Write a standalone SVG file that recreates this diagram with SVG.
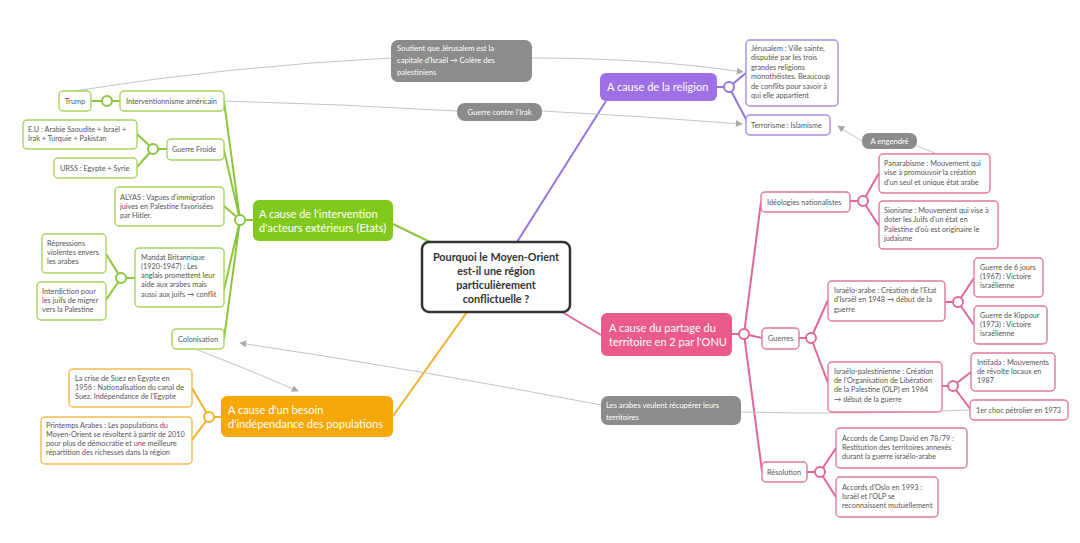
<svg xmlns="http://www.w3.org/2000/svg" width="1080" height="543" viewBox="0 0 1080 543">
<defs>
<style>
text{font-family:"Lato","Liberation Sans",sans-serif;}
.t{font-size:7.3px;fill:#555;}
.w{font-size:7.6px;fill:#fff;}
.m{font-size:11px;fill:#fff;}
.c{font-size:10.8px;font-weight:bold;fill:#333;text-anchor:middle;}
.g rect{fill:#fff;stroke:#a6d55e;stroke-width:1.4;}
.o rect{fill:#fff;stroke:#f2bd4c;stroke-width:1.4;}
.p rect{fill:#fff;stroke:#a78ddb;stroke-width:1.4;}
.k rect{fill:#fff;stroke:#de7aa2;stroke-width:1.4;}
.gr rect{fill:#8c8c8c;}
.lg{stroke:#8cc63f;stroke-width:2;fill:none;}
.lo{stroke:#f0b12c;stroke-width:2;fill:none;}
.lp{stroke:#9575e0;stroke-width:2;fill:none;}
.lk{stroke:#e0679a;stroke-width:2;fill:none;}
.hg{fill:#fff;stroke:#8cc63f;stroke-width:2;}
.ho{fill:#fff;stroke:#f0b12c;stroke-width:2;}
.hp{fill:#fff;stroke:#9575e0;stroke-width:2;}
.hk{fill:#fff;stroke:#e0679a;stroke-width:2;}
.rel{stroke:#c4c4c4;stroke-width:1;fill:none;}
</style>
<marker id="ar" viewBox="0 0 10 10" refX="9" refY="5" markerWidth="7" markerHeight="7" orient="auto" markerUnits="userSpaceOnUse">
<path d="M0,0 L10,5 L0,10 z" fill="#aaa"/>
</marker>
</defs>
<rect width="1080" height="543" fill="#fff"/>

<g id="connectors">
<path class="lg" d="M430,242 L393,224"/>
<path class="lo" d="M467,312 L393,416"/>
<path class="lp" d="M517,242 L606,101"/>
<path class="lk" d="M562,312 L601,335"/>
<path class="lg" d="M240,220 L224,101 M240,220 L224,150 M240,220 L224,206 M240,220 L224,290 M240,220 L224,339 M240,220 L253,220"/>
<path class="lg" d="M91,101 L102,101 M112,101 L120,101"/>
<path class="lg" d="M153,149 L137,134 M153,149 L137,167 M158,149 L167,149"/>
<path class="lg" d="M121,278 L106,254 M121,278 L106,300 M126,278 L135,278"/>
<path class="lo" d="M209,417 L192,388 M209,417 L192,440 M214,417 L221,417"/>
<path class="lp" d="M717,87 L724,87 M729,87 L746,73 M729,87 L747,121"/>
<path class="lk" d="M732,334 L739,334 M744,334 L761,202 M744,334 L762,338 M744,334 L762,471"/>
<path class="lk" d="M850,201 L858,201 M863,201 L879,173 M863,201 L879,226"/>
<path class="lk" d="M799,338 L806,338 M811,338 L828,300 M811,338 L828,383"/>
<path class="lk" d="M945,302 L953,302 M958,302 L974,278 M958,302 L974,325"/>
<path class="lk" d="M942,386 L948,386 M953,386 L971,372 M953,386 L971,410"/>
<path class="lk" d="M807,472 L815,472 M820,472 L836,448 M820,472 L836,497"/>
<circle class="hg" cx="240" cy="220" r="5"/>
<circle class="hg" cx="107" cy="101" r="5"/>
<circle class="hg" cx="153" cy="149" r="5"/>
<circle class="hg" cx="121" cy="278" r="5"/>
<circle class="ho" cx="209" cy="417" r="5"/>
<circle class="hp" cx="729" cy="87" r="5"/>
<circle class="hk" cx="744" cy="334" r="5"/>
<circle class="hk" cx="863" cy="201" r="5"/>
<circle class="hk" cx="811" cy="338" r="5"/>
<circle class="hk" cx="958" cy="302" r="5"/>
<circle class="hk" cx="953" cy="386" r="5"/>
<circle class="hk" cx="820" cy="472" r="5"/>
<path class="rel" d="M74,91 Q230,66 391,58"/>
<path class="rel" marker-end="url(#ar)" d="M532,58 Q650,58 743,72"/>
<path class="rel" d="M224,101 Q340,104 457,111"/>
<path class="rel" marker-end="url(#ar)" d="M542,111 Q640,116 742,124"/>
<path class="rel" d="M937,154 Q925,149 917,146"/>
<path class="rel" marker-end="url(#ar)" d="M862,141 Q850,134 838,126"/>
<path class="rel" d="M970,410 Q850,415 741,412"/>
<path class="rel" marker-end="url(#ar)" d="M601,405 Q420,370 240,343"/>
<path class="rel" marker-end="url(#ar)" d="M198,350 Q250,370 298,391"/>
</g>

<g id="central">
<rect x="422" y="242" width="148" height="70" rx="7" fill="#fff" stroke="#333" stroke-width="2.5"/>
<text class="c" x="496" y="261">Pourquoi le Moyen-Orient</text>
<text class="c" x="496" y="275">est-il une région</text>
<text class="c" x="496" y="289">particulièrement</text>
<text class="c" x="496" y="303">conflictuelle ?</text>
</g>

<g id="n-exterieur">
<rect x="253" y="200" width="140" height="41" rx="6" fill="#82c91e"/>
<text class="m" x="259" y="218">A cause de l'intervention</text>
<text class="m" x="259" y="232">d'acteurs extérieurs (Etats)</text>
</g>
<g id="n-besoin">
<rect x="221" y="396" width="172" height="41" rx="6" fill="#f6a70a"/>
<text class="m" x="228" y="414">A cause d'un besoin</text>
<text class="m" x="228" y="428">d'indépendance des populations</text>
</g>
<g id="n-religion">
<rect x="600" y="73" width="117" height="28" rx="6" fill="#9d70e5"/>
<text class="m" x="607" y="91">A cause de la religion</text>
</g>
<g id="n-partage">
<rect x="601" y="313" width="131" height="43" rx="6" fill="#ea5b8c"/>
<text class="m" x="609" y="332">A cause du partage du</text>
<text class="m" x="609" y="346">territoire en 2 par l'ONU</text>
</g>

<g id="n-trump" class="g"><rect x="59" y="91" width="32" height="20" rx="4"/><text class="t" x="75" y="104" text-anchor="middle">Trump</text></g>
<g id="n-interv" class="g"><rect x="120" y="91" width="104" height="20" rx="4"/><text class="t" x="126" y="104">Interventionnisme américain</text></g>
<g id="n-eu" class="g"><rect x="23" y="120" width="114" height="29" rx="4"/><text class="t" x="28" y="132">E.U : Arabie Saoudite + Israël +</text><text class="t" x="28" y="141">Irak + Turquie + Pakistan</text></g>
<g id="n-urss" class="g"><rect x="54" y="158" width="83" height="20" rx="4"/><text class="t" x="60" y="171">URSS : Egypte + Syrie</text></g>
<g id="n-gf" class="g"><rect x="167" y="139" width="57" height="21" rx="4"/><text class="t" x="172" y="152">Guerre Froide</text></g>
<g id="n-alyas" class="g"><rect x="115" y="187" width="109" height="39" rx="4"/><text class="t" x="120" y="200">ALYAS : Vagues d'immigration</text><text class="t" x="120" y="209">juives en Palestine favorisées</text><text class="t" x="120" y="218">par Hitler.</text></g>
<g id="n-mandat" class="g"><rect x="135" y="248" width="89" height="59" rx="4"/><text class="t" x="141" y="260">Mandat Britannique</text><text class="t" x="141" y="269">(1920-1947) : Les</text><text class="t" x="141" y="278">anglais promettent leur</text><text class="t" x="141" y="287">aide aux arabes mais</text><text class="t" x="141" y="297">aussi aux juifs →  conflit</text></g>
<g id="n-repr" class="g"><rect x="42" y="234" width="64" height="39" rx="4"/><text class="t" x="47" y="246">Répressions</text><text class="t" x="47" y="255">violentes envers</text><text class="t" x="47" y="264">les arabes</text></g>
<g id="n-interd" class="g"><rect x="37" y="282" width="69" height="38" rx="4"/><text class="t" x="42" y="294">Interdiction pour</text><text class="t" x="42" y="303">les juifs de migrer</text><text class="t" x="42" y="312">vers la Palestine</text></g>
<g id="n-colon" class="g"><rect x="172" y="329" width="52" height="20" rx="4"/><text class="t" x="178" y="342">Colonisation</text></g>

<g id="n-suez" class="o"><rect x="69" y="369" width="123" height="38" rx="4"/><text class="t" x="75" y="381">La crise de Suez en Egypte en</text><text class="t" x="75" y="390">1956 : Nationalisation du canal de</text><text class="t" x="75" y="399">Suez. Indépendance de l'Egypte</text></g>
<g id="n-printemps" class="o"><rect x="41" y="417" width="151" height="47" rx="4"/><text class="t" x="46" y="428">Printemps Arabes : Les populations du</text><text class="t" x="46" y="437">Moyen-Orient se révoltent à partir de 2010</text><text class="t" x="46" y="446">pour plus de démocratie et une meilleure</text><text class="t" x="46" y="455">répartition des richesses dans la région</text></g>

<g id="n-jerusalem" class="p"><rect x="746" y="40" width="92" height="66" rx="4"/><text class="t" x="751" y="51">Jérusalem : Ville sainte,</text><text class="t" x="751" y="60">disputée par les trois</text><text class="t" x="751" y="70">grandes religions</text><text class="t" x="751" y="79">monothéistes. Beaucoup</text><text class="t" x="751" y="89">de conflits pour savoir à</text><text class="t" x="751" y="98">qui elle appartient</text></g>
<g id="n-terror" class="p"><rect x="746" y="115" width="84" height="20" rx="4"/><text class="t" x="751" y="128">Terrorisme : Islamisme</text></g>

<g id="n-ideo" class="k"><rect x="761" y="192" width="89" height="20" rx="4"/><text class="t" x="767" y="205">Idéologies nationalistes</text></g>
<g id="n-panar" class="k"><rect x="879" y="154" width="111" height="39" rx="4"/><text class="t" x="884" y="166">Panarabisme : Mouvement qui</text><text class="t" x="884" y="175">vise à promouvoir la création</text><text class="t" x="884" y="185">d'un seul et unique état arabe</text></g>
<g id="n-sion" class="k"><rect x="879" y="201" width="119" height="48" rx="4"/><text class="t" x="884" y="213">Sionisme : Mouvement qui vise à</text><text class="t" x="884" y="222">doter les Juifs d'un état en</text><text class="t" x="884" y="232">Palestine d'où est originaire le</text><text class="t" x="884" y="241">judaïsme</text></g>
<g id="n-guerres" class="k"><rect x="762" y="328" width="37" height="21" rx="4"/><text class="t" x="768" y="341">Guerres</text></g>
<g id="n-isar" class="k"><rect x="828" y="281" width="117" height="40" rx="4"/><text class="t" x="834" y="293">Israélo-arabe : Création de l'Etat</text><text class="t" x="834" y="302">d'Israël en 1948 →  début de la</text><text class="t" x="834" y="312">guerre</text></g>
<g id="n-ispal" class="k"><rect x="828" y="362" width="114" height="50" rx="4"/><text class="t" x="834" y="374">Israélo-palestinienne : Création</text><text class="t" x="834" y="383">de l'Organisation de Libération</text><text class="t" x="834" y="392">de la Palestine (OLP) en 1964</text><text class="t" x="834" y="402">→  début de la guerre</text></g>
<g id="n-6j" class="k"><rect x="974" y="258" width="69" height="39" rx="4"/><text class="t" x="980" y="270">Guerre de 6 jours</text><text class="t" x="980" y="279">(1967) : Victoire</text><text class="t" x="980" y="288">israélienne</text></g>
<g id="n-kip" class="k"><rect x="974" y="306" width="73" height="38" rx="4"/><text class="t" x="980" y="318">Guerre de Kippour</text><text class="t" x="980" y="327">(1973) : Victoire</text><text class="t" x="980" y="336">israélienne</text></g>
<g id="n-intif" class="k"><rect x="971" y="353" width="84" height="38" rx="4"/><text class="t" x="977" y="365">Intifada : Mouvements</text><text class="t" x="977" y="374">de révolte locaux en</text><text class="t" x="977" y="383">1987</text></g>
<g id="n-choc" class="k"><rect x="970" y="400" width="98" height="20" rx="4"/><text class="t" x="976" y="413">1er choc pétrolier en 1973</text></g>
<g id="n-resol" class="k"><rect x="762" y="462" width="45" height="20" rx="4"/><text class="t" x="767" y="475">Résolution</text></g>
<g id="n-camp" class="k"><rect x="836" y="428" width="131" height="40" rx="4"/><text class="t" x="842" y="441">Accords de Camp David en 78/79 :</text><text class="t" x="842" y="450">Restitution des territoires annexés</text><text class="t" x="842" y="459">durant la guerre israélo-arabe</text></g>
<g id="n-oslo" class="k"><rect x="836" y="477" width="102" height="40" rx="4"/><text class="t" x="842" y="490">Accords d'Oslo en 1993 :</text><text class="t" x="842" y="499">Israël et l'OLP se</text><text class="t" x="842" y="508">reconnaissent mutuellement</text></g>

<g id="r-soutient" class="gr"><rect x="391" y="40" width="141" height="42" rx="7"/><text class="w" x="397" y="51">Soutient que Jérusalem est la</text><text class="w" x="397" y="63">capitale d'Israël →  Colère des</text><text class="w" x="397" y="75">palestiniens</text></g>
<g id="r-irak" class="gr"><rect x="457" y="103" width="85" height="18" rx="8"/><text class="w" x="499.5" y="115" text-anchor="middle">Guerre contre l'Irak</text></g>
<g id="r-engendre" class="gr"><rect x="862" y="133" width="55" height="16" rx="7"/><text class="w" x="889.5" y="144" text-anchor="middle">A engendré</text></g>
<g id="r-arabes" class="gr"><rect x="601" y="396" width="140" height="29" rx="7"/><text class="w" x="606" y="408">Les arabes veulent récupérer leurs</text><text class="w" x="606" y="420">territoires</text></g>
</svg>
